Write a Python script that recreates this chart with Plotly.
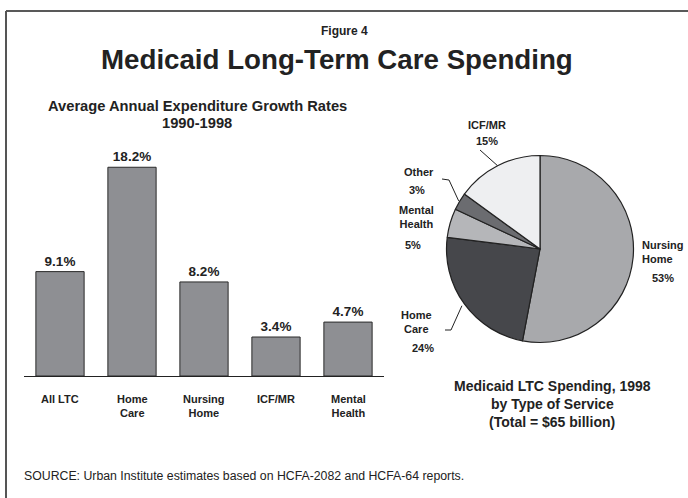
import math
import plotly.graph_objects as go

W, H = 688, 498
FONT = "Liberation Sans, Arial, Helvetica, sans-serif"
INK = "#222222"

# Average annual expenditure growth, 1990-1998 (%)
categories = ["All LTC", "Home<br>Care", "Nursing<br>Home", "ICF/MR", "Mental<br>Health"]
growth_rates = [9.1, 18.2, 8.2, 3.4, 4.7]

# Medicaid LTC spending by type of service, 1998 (% of total)
pie_labels = ["Nursing Home", "Home Care", "Mental Health", "Other", "ICF/MR"]
pie_shares = [53, 24, 5, 3, 15]
pie_colors = ["#a8a9ac", "#46474b", "#b5b6b9", "#6b6c70", "#eeeff1"]


def px(x):
    return x / W


def py(y):
    return 1 - y / H


fig = go.Figure()

# ---- bar chart ----
fig.add_trace(go.Bar(
    x=list(range(len(categories))),
    y=growth_rates,
    marker=dict(color="#8e8f93", line=dict(color="#2a2a2a", width=1)),
    texttemplate="<b>%{y}%</b>",
    textposition="outside",
    textfont=dict(family=FONT, size=13.5, color=INK),
    cliponaxis=False,
    width=0.67,
    hoverinfo="skip",
    xaxis="x", yaxis="y",
))

# ---- pie chart ----
PIE_CX, PIE_CY, PIE_R = 540, 249, 93.5
fig.add_trace(go.Pie(
    labels=pie_labels,
    values=pie_shares,
    sort=False,
    direction="clockwise",
    rotation=0,
    marker=dict(colors=pie_colors, line=dict(color="#222222", width=1.2)),
    textinfo="none",
    hoverinfo="skip",
    showlegend=False,
    domain=dict(x=[px(PIE_CX - PIE_R), px(PIE_CX + PIE_R)],
                y=[py(PIE_CY + PIE_R), py(PIE_CY - PIE_R)]),
))


def rim_point(index, pad=2):
    """Point just outside the rim at the middle of slice `index`."""
    total = sum(pie_shares)
    start = sum(pie_shares[:index])
    frac = (start + pie_shares[index] / 2) / total
    ang = 2 * math.pi * frac
    r = PIE_R + pad
    return PIE_CX + r * math.sin(ang), PIE_CY - r * math.cos(ang)


annotations = []


def text(x, y, s, size, bold=True, xanchor="center", yanchor="middle", align="center"):
    annotations.append(dict(
        x=px(x), y=py(y), xref="paper", yref="paper",
        text=f"<b>{s}</b>" if bold else s,
        showarrow=False, xanchor=xanchor, yanchor=yanchor, align=align,
        font=dict(family=FONT, size=size, color=INK),
    ))


# titles
text(344, 31, "Figure 4", 12)
text(337, 59, "Medicaid Long-Term Care Spending", 27.7)
text(197, 106, "Average Annual Expenditure Growth Rates", 14.7)
text(197, 123, "1990-1998", 14.7)

# pie caption
text(552, 386, "Medicaid LTC Spending, 1998", 14)
text(552, 404, "by Type of Service", 14)
text(552, 422, "(Total = $65 billion)", 14)

# source
text(22, 476, "SOURCE: Urban Institute estimates based on HCFA-2082 and HCFA-64 reports.",
     12.3, bold=False, xanchor="left")

# category labels under the bars
for i, c in enumerate(categories):
    annotations.append(dict(
        x=i, y=py(391), xref="x", yref="paper",
        text=f"<b>{c}</b>", showarrow=False, xanchor="center", yanchor="top",
        font=dict(family=FONT, size=11, color=INK),
    ))

# pie slice labels
pct = {lab: f"{v}%" for lab, v in zip(pie_labels, pie_shares)}
text(487, 125, "ICF/MR", 11)
text(487, 141, pct["ICF/MR"], 11)
text(419, 172, "Other", 11)
text(417, 190, pct["Other"], 11)
text(416, 217, "Mental<br>Health", 11)
text(413, 245, pct["Mental Health"], 11)
text(416, 322, "Home<br>Care", 11)
text(423, 348, pct["Home Care"], 11)
text(640, 252, "Nursing<br>Home", 11, xanchor="left", align="left")
text(663, 278, pct["Nursing Home"], 11)

# leader lines from labels to slices
shapes = []


def seg(x0, y0, x1, y1, color=INK, width=1):
    shapes.append(dict(type="line", xref="paper", yref="paper",
                       x0=px(x0), y0=py(y0), x1=px(x1), y1=py(y1),
                       line=dict(color=color, width=width)))


ix, iy = rim_point(pie_labels.index("ICF/MR"), pad=0)
seg(480, 150, ix, iy)
ox, oy = rim_point(pie_labels.index("Other"), pad=1)
seg(442, 179, 449, 180)
seg(449, 180, ox, oy)
hx, hy = rim_point(pie_labels.index("Home Care"), pad=3)
seg(445, 330, 451, 330)
seg(451, 330, hx, hy)

# frame
seg(6, 11, 688, 11, color="#222222", width=1.5)
seg(6, 11, 6, 498, color="#555555", width=2)

fig.update_layout(
    width=W, height=H,
    margin=dict(l=0, r=0, t=0, b=0),
    paper_bgcolor="white", plot_bgcolor="white",
    showlegend=False,
    bargap=0.33,
    xaxis=dict(domain=[px(24), px(384)], range=[-0.5, 4.5],
               showticklabels=False, ticks="", showgrid=False, zeroline=False,
               showline=True, linecolor="#222222", linewidth=1.3, fixedrange=True),
    yaxis=dict(domain=[py(376), py(146.6)], range=[0, 20], visible=False,
               fixedrange=True),
    annotations=annotations,
    shapes=shapes,
)

fig.write_html("out.html", config={"displayModeBar": False})
